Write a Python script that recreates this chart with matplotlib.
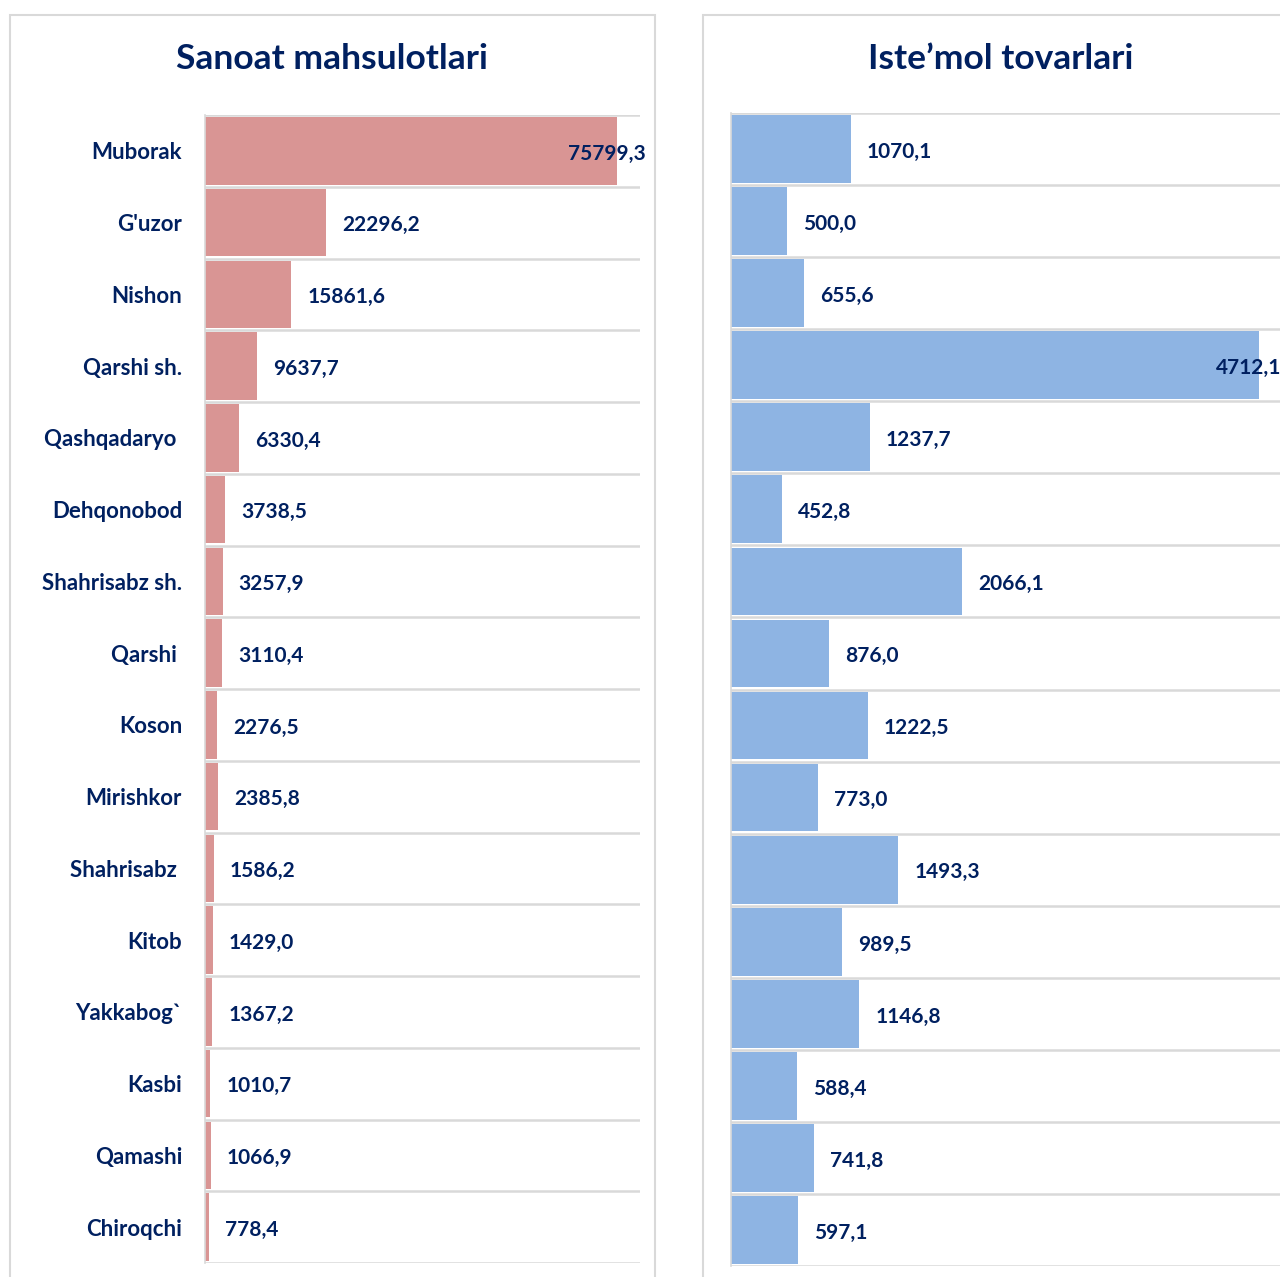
import numpy as np
import matplotlib
matplotlib.use("Agg")
import matplotlib.pyplot as plt
from matplotlib.patches import Rectangle

# =====================================
# DATA
# =====================================
districts = ["Muborak", "G'uzor", "Nishon", "Qarshi sh.", "Qashqadaryo ",
             "Dehqonobod", "Shahrisabz sh.", "Qarshi ", "Koson", "Mirishkor",
             "Shahrisabz ", "Kitob", "Yakkabog`", "Kasbi", "Qamashi", "Chiroqchi"]

sanoat = [75799.3, 22296.2, 15861.6, 9637.7, 6330.4, 3738.5, 3257.9, 3110.4,
          2276.5, 2385.8, 1586.2, 1429.0, 1367.2, 1010.7, 1066.9, 778.4]

istemol = [1070.1, 500.0, 655.6, 4712.1, 1237.7, 452.8, 2066.1, 876.0,
           1222.5, 773.0, 1493.3, 989.5, 1146.8, 588.4, 741.8, 597.1]

title_left = "Sanoat mahsulotlari"
title_right = "Iste\u2019mol tovarlari"

# =====================================
# STYLE
# =====================================
plt.rcParams["font.family"] = ["Lato", "DejaVu Sans"]
navy = "#002060"
grid_color = "#D9D9D9"
W, H = 1280, 1277

fig = plt.figure(figsize=(W / 100, H / 100), dpi=100)


def fmt(v):
    return f"{v:.1f}".replace(".", ",")


def fig_box(x0, y0, x1, y1):
    # pixel box (top-left origin) -> figure fraction rect
    return [x0 / W, 1 - y1 / H, (x1 - x0) / W, (y1 - y0) / H]


# panel frames
for x0, x1 in [(10, 655), (703, 1299)]:
    fig.patches.append(Rectangle((x0 / W, -0.05), (x1 - x0) / W, 1.05 - 15 / H,
                                 transform=fig.transFigure, fill=False,
                                 edgecolor=grid_color, linewidth=1.5))

fig.text(332 / W, 1 - 59 / H, title_left, ha="center", va="center",
         fontsize=25.5, fontweight="bold", color=navy)
fig.text(1001 / W, 1 - 59 / H, title_right, ha="center", va="center",
         fontsize=25.5, fontweight="bold", color=navy)


def draw_panel(ax, values, color, xmax, show_labels, max_off):
    y = np.arange(len(values))
    ax.barh(y, values, height=0.94, color=color, zorder=2)
    ax.set_xlim(0, xmax)
    ax.set_ylim(len(values) - 0.5, -0.5)
    ax.set_yticks(y)
    if show_labels:
        ax.set_yticklabels(districts, fontsize=16, fontweight="bold", color=navy)
    else:
        ax.set_yticklabels([])
    ax.set_yticks(np.arange(-0.5, len(values), 1), minor=True)
    ax.grid(which="minor", axis="y", color=grid_color, linewidth=1.8, zorder=1)
    ax.tick_params(which="both", length=0, pad=16.5)
    ax.set_xticks([])
    for s in ["top", "right", "bottom"]:
        ax.spines[s].set_visible(False)
    ax.spines["left"].set_color(grid_color)
    ax.spines["left"].set_linewidth(1.2)
    vmax = max(values)
    for yi, v in zip(y, values):
        off = max_off if v == vmax else 16
        ax.annotate(fmt(v), (v, yi), xytext=(off * 0.72, -2), textcoords="offset points",
                    ha="left", va="center", fontsize=15, fontweight="bold",
                    color=navy, zorder=3, annotation_clip=False)


ax1 = fig.add_axes(fig_box(205, 115, 640, 1263))
draw_panel(ax1, sanoat, "#D99594", 80000, True, -49)

ax2 = fig.add_axes(fig_box(731, 113, 1291, 1266))
draw_panel(ax2, istemol, "#8EB4E3", 5000, False, -43)

plt.savefig("out.png", dpi=100)
plt.close()
